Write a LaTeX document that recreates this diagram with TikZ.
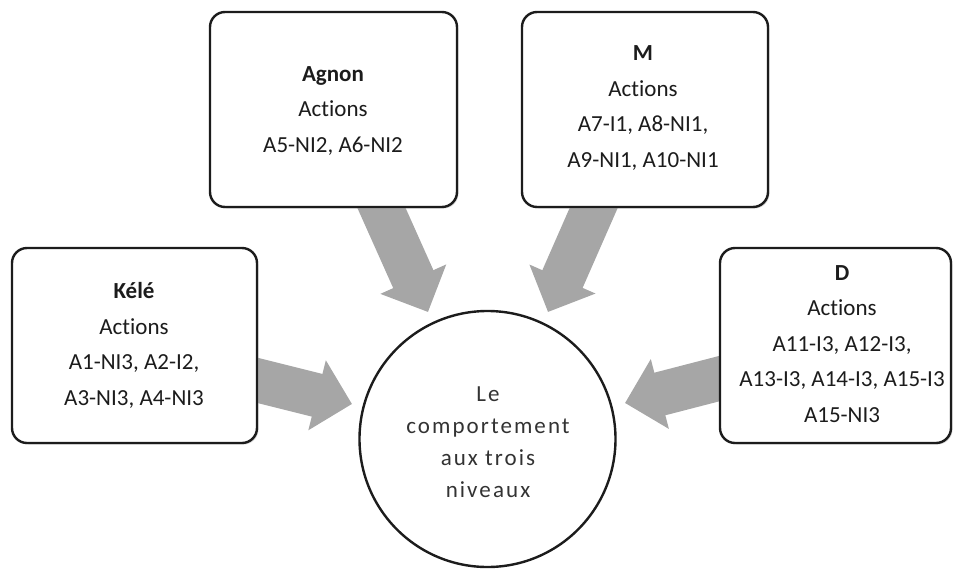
\documentclass[tikz,border=0pt]{standalone}
\usepackage{fontspec}
\setmainfont{Carlito}[Ligatures=NoCommon]
\usetikzlibrary{arrows.meta,shadows}
\definecolor{arrowgray}{HTML}{A6A6A6}
\definecolor{inkdark}{HTML}{1C1C1C}
\begin{document}
\begin{tikzpicture}[x=1pt,y=-1pt,
  actor/.style={draw=inkdark, line width=2.4pt, rounded corners=15pt, fill=white,
    inner sep=0pt, minimum height=195pt,
    drop shadow={shadow xshift=1.5pt, shadow yshift=-1.5pt, fill=black!30}},
  actortext/.style={anchor=base, align=center, inner sep=0pt, text=inkdark,
    font=\fontsize{23}{35.5}\selectfont},
  hub/.style={circle, draw=inkdark, line width=2.4pt, fill=white, inner sep=0pt,
    minimum size=256pt},
  hubtext/.style={anchor=base, align=center, inner sep=0pt, text=black!80,
    font=\fontsize{23}{32}\selectfont\addfontfeature{LetterSpace=9}},
  flow/.style={line width=44pt, draw=arrowgray, line cap=butt,
    -{Triangle[length=36pt 0, width=70pt 0, fill=arrowgray]}}
]
\useasboundingbox (0,0) rectangle (953,568);

% tips of the four block arrows and their hidden tails
\coordinate (tipK) at (352,404);
\coordinate (tipA) at (428,312);
\coordinate (tipM) at (548,312);
\coordinate (tipD) at (625,403);
\coordinate (tailK) at (236,375);
\coordinate (tailA) at (373,189);
\coordinate (tailM) at (602,189);
\coordinate (tailD) at (739,373.5);

\draw[flow] (tailK) -- (tipK);
\draw[flow] (tailA) -- (tipA);
\draw[flow] (tailM) -- (tipM);
\draw[flow] (tailD) -- (tipD);

% actor boxes
\node[actor, minimum width=245pt] (kele)  at (134.5,345.5) {};
\node[actor, minimum width=247pt] (agnon) at (333.5,109.5) {};
\node[actor, minimum width=246pt] (m)     at (645,109.5) {};
\node[actor, minimum width=231pt] (d)     at (835.5,345.5) {};

% node base = baseline of the last line
\node[actortext] (keletext)  at (134,405) {\textbf{Kélé}\\Actions\\A1-NI3, A2-I2,\\A3-NI3, A4-NI3};
\node[actortext] (agnontext) at (333,152) {\textbf{Agnon}\\Actions\\A5-NI2, A6-NI2};
\node[actortext] (mtext)     at (643,167) {\textbf{M}\\Actions\\A7-I1, A8-NI1,\\A9-NI1, A10-NI1};
\node[actortext] (dtext)     at (842,422) {\textbf{D}\\Actions\\A11-I3, A12-I3,\\A13-I3, A14-I3, A15-I3\\A15-NI3};

% central circle
\node[hub] (core) at (487.5,439) {};
\node[hubtext] (coretext) at (488,497) {Le\\comportement\\aux trois\\niveaux};
\end{tikzpicture}
\end{document}
